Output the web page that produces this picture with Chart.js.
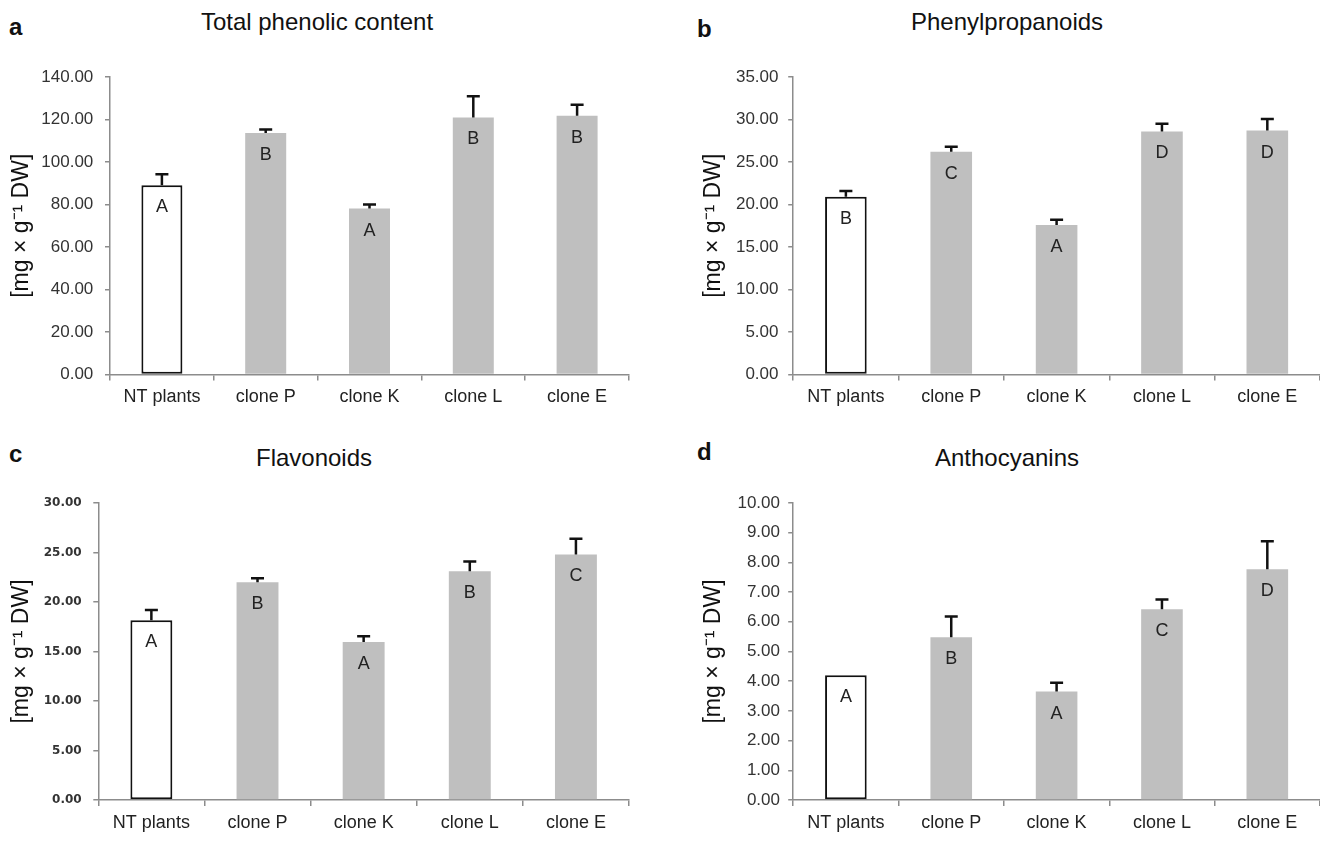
<!DOCTYPE html>
<html>
<head>
<meta charset="utf-8">
<script src="https://cdn.jsdelivr.net/npm/chart.js@4.4.1/dist/chart.umd.min.js"></script>
<style>
  html, body { margin: 0; padding: 0; background: #fff; overflow: hidden; width: 1320px; height: 842px; }
  .panel { position: absolute; }
  .panel canvas { display: block; }
  .tag { position: absolute; font: bold 24px 'Liberation Sans', Arial, sans-serif; line-height: 24px; color: #111; }
  .ttl { position: absolute; width: 400px; margin-left: -200px; text-align: center;
         font: 24px 'Liberation Sans', Arial, sans-serif; line-height: 24px; color: #111; }
</style>
</head>
<body>
<div class="tag" style="left:9px;top:15px">a</div>
<div class="tag" style="left:697px;top:17px">b</div>
<div class="tag" style="left:9px;top:442px">c</div>
<div class="tag" style="left:697px;top:440px">d</div>

<div class="ttl" id="ta" style="left:317px;top:10px"></div>
<div class="ttl" id="tb" style="left:1007px;top:10px"></div>
<div class="ttl" id="tc" style="left:314px;top:446px"></div>
<div class="ttl" id="td" style="left:1007px;top:446px"></div>

<div class="panel" id="pa"><canvas id="chartA"></canvas></div>
<div class="panel" id="pb"><canvas id="chartB"></canvas></div>
<div class="panel" id="pc"><canvas id="chartC"></canvas></div>
<div class="panel" id="pd"><canvas id="chartD"></canvas></div>

<script>
// categories shared by all four panels
const categories = ['NT plants', 'clone P', 'clone K', 'clone L', 'clone E'];

// a: total phenolic content
const phenolicMeans = [89.1, 113.7, 78.1, 121.0, 121.8];
const phenolicErr = [5.1, 1.6, 1.9, 9.9, 5.2];
const phenolicGroups = ['A', 'B', 'A', 'B', 'B'];
const phenolicTicks = [0, 20, 40, 60, 80, 100, 120, 140];

// b: phenylpropanoids
const phenylMeans = [20.9, 26.2, 17.6, 28.6, 28.7];
const phenylErr = [0.7, 0.6, 0.6, 0.9, 1.35];
const phenylGroups = ['B', 'C', 'A', 'D', 'D'];
const phenylTicks = [0, 5, 10, 15, 20, 25, 30, 35];

// c: flavonoids
const flavMeans = [18.15, 22.0, 15.95, 23.1, 24.8];
const flavErr = [1.05, 0.4, 0.6, 1.0, 1.6];
const flavGroups = ['A', 'B', 'A', 'B', 'C'];
const flavTicks = [0, 5, 10, 15, 20, 25, 30];

// d: anthocyanins
const anthoMeans = [4.2, 5.48, 3.65, 6.42, 7.77];
const anthoErr = [0, 0.7, 0.3, 0.33, 0.94];
const anthoGroups = ['A', 'B', 'A', 'C', 'D'];
const anthoTicks = [0, 1, 2, 3, 4, 5, 6, 7, 8, 9, 10];

const titles = ['Total phenolic content', 'Phenylpropanoids', 'Flavonoids', 'Anthocyanins'];
const yTitle = '[mg \u00d7 g\u207b\u00b9 DW]';

const SANS = "'Liberation Sans', Arial, sans-serif";
const AXIS = '#8c8c8c';

// error bars + significance letters, drawn from the chart's own scales
const extras = {
  id: 'extras',
  afterDatasetsDraw(chart, args, opts) {
    const { ctx, scales: { y } } = chart;
    const meta = chart.getDatasetMeta(0);
    const means = chart.data.datasets[0].data;
    ctx.save();
    ctx.strokeStyle = '#111';
    ctx.lineWidth = 2.5;
    meta.data.forEach((bar, i) => {
      const e = opts.err[i];
      if (!e) return;
      const y0 = y.getPixelForValue(means[i]);
      const y1 = y.getPixelForValue(means[i] + e);
      ctx.beginPath();
      ctx.moveTo(bar.x, y0);
      ctx.lineTo(bar.x, y1);
      ctx.moveTo(bar.x - 6.5, y1);
      ctx.lineTo(bar.x + 6.5, y1);
      ctx.stroke();
    });
    ctx.fillStyle = '#222';
    ctx.font = '18px ' + SANS;
    ctx.textAlign = 'center';
    ctx.textBaseline = 'middle';
    meta.data.forEach((bar, i) => {
      ctx.fillText(opts.groups[i], bar.x, y.getPixelForValue(means[i]) + 22);
    });
    ctx.restore();
  }
};

function makePanel(boxId, canvasId, L) {
  const box = document.getElementById(boxId);
  box.style.left = L.left + 'px';
  box.style.top = L.top + 'px';
  const cv = document.getElementById(canvasId);
  cv.width = L.w; cv.height = L.h;
  cv.style.width = L.w + 'px'; cv.style.height = L.h + 'px';

  const fills = L.means.map((v, i) => i === 0 ? '#ffffff' : '#bfbfbf');
  const borders = L.means.map((v, i) => i === 0 ? 2 : 0);

  return new Chart(cv.getContext('2d'), {
    type: 'bar',
    data: {
      labels: categories,
      datasets: [{
        data: L.means,
        backgroundColor: fills,
        borderColor: '#111',
        borderWidth: borders,
        borderSkipped: false,
        barPercentage: 0.395,
        categoryPercentage: 1
      }]
    },
    options: {
      responsive: false,
      animation: false,
      layout: { padding: { left: 0, right: L.padRight, top: L.padTop, bottom: 0 } },
      plugins: {
        legend: { display: false },
        tooltip: { enabled: false },
        extras: { err: L.err, groups: L.groups }
      },
      scales: {
        x: {
          offset: true,
          border: { color: AXIS, width: 1.5 },
          grid: { display: true, drawOnChartArea: false, drawTicks: true, tickLength: 6, color: AXIS, lineWidth: 1.5, offset: true },
          ticks: { color: '#222', font: { family: SANS, size: 18 }, padding: L.xTickPad, maxRotation: 0, autoSkip: false },
          afterFit: s => { s.height = L.xH; }
        },
        y: {
          min: 0,
          max: L.ticks[L.ticks.length - 1],
          border: { color: AXIS, width: 1.5 },
          grid: { display: true, drawOnChartArea: false, drawTicks: true, tickLength: 5, color: AXIS, lineWidth: 1.5 },
          afterBuildTicks: s => { s.ticks = L.ticks.map(v => ({ value: v })); },
          ticks: {
            color: '#333',
            font: L.tickFont,
            padding: L.yTickPad,
            callback: v => Number(v).toFixed(2)
          },
          title: {
            display: true,
            text: yTitle,
            color: '#111',
            font: { family: SANS, size: 23 },
            padding: { top: L.yTitlePad, bottom: 0 }
          },
          afterFit: s => { s.width = L.yW; }
        }
      }
    },
    plugins: [extras]
  });
}

function init() {
  ['ta', 'tb', 'tc', 'td'].forEach((id, i) => { document.getElementById(id).textContent = titles[i]; });

  const plainTicks = { family: SANS, size: 17 };
  makePanel('pa', 'chartA', {
    left: 0, top: 0, w: 634, h: 410, yW: 110, xH: 35.5, padRight: 5, padTop: 77,
    yTitlePad: 7.7, yTickPad: 11.7, xTickPad: 5.7,
    means: phenolicMeans, err: phenolicErr, groups: phenolicGroups,
    ticks: phenolicTicks, tickFont: plainTicks
  });
  makePanel('pb', 'chartB', {
    left: 660, top: 0, w: 660, h: 410, yW: 133.2, xH: 35.5, padRight: 0, padTop: 77,
    yTitlePad: 40.2, yTickPad: 9.7, xTickPad: 5.7,
    means: phenylMeans, err: phenylErr, groups: phenylGroups,
    ticks: phenylTicks, tickFont: plainTicks
  });
  makePanel('pc', 'chartC', {
    left: -7, top: 420, w: 641, h: 416, yW: 105.3, xH: 36, padRight: 5, padTop: 83,
    yTitlePad: 14.7, yTickPad: 11.6, xTickPad: 6.7,
    means: flavMeans, err: flavErr, groups: flavGroups,
    ticks: flavTicks, tickFont: { family: "'DejaVu Sans', Verdana, sans-serif", size: 12, weight: 'bold' }
  });
  makePanel('pd', 'chartD', {
    left: 660, top: 420, w: 660, h: 416, yW: 133.2, xH: 36, padRight: 0, padTop: 83,
    yTitlePad: 40.2, yTickPad: 8.2, xTickPad: 6.7,
    means: anthoMeans, err: anthoErr, groups: anthoGroups,
    ticks: anthoTicks, tickFont: plainTicks
  });
}

document.addEventListener('DOMContentLoaded', init);
</script>
</body>
</html>
